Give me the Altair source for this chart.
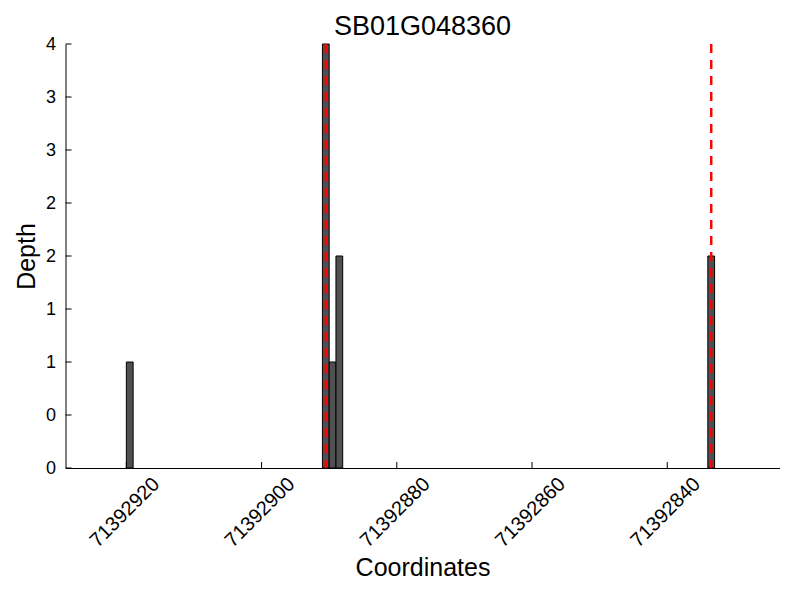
import altair as alt
import pandas as pd

# Data
positions = [71392919, 71392890, 71392889, 71392888, 71392833]
depths = [1, 4, 1, 2, 2]
marker_positions = [71392890.5, 71392833.5]
x_ticks = [71392920, 71392900, 71392880, 71392860, 71392840]
y_ticks = [0, 0.5, 1, 1.5, 2, 2.5, 3, 3.5, 4]
x_domain = [71392823.4, 71392929]
y_domain = [0, 4]
title_text = "SB01G048360"

FONT = "Liberation Sans"
W, H = 714, 424

bars_df = pd.DataFrame({"pos": positions, "depth": depths})
bars_df["end"] = bars_df["pos"] + 1
lines_df = pd.DataFrame({"pos": marker_positions})
xt_df = pd.DataFrame({"pos": x_ticks})
yt_df = pd.DataFrame({"depth": y_ticks})

xscale = alt.Scale(domain=x_domain, reverse=True, nice=False, zero=False)
yscale = alt.Scale(domain=y_domain, nice=False, zero=False)

xaxis = alt.Axis(values=x_ticks, format="d", labelAngle=-45,
                 labelAlign="center", labelBaseline="middle",
                 labelPadding=44, labelOffset=-2, tickSize=0,
                 grid=False, domainColor="black", domainWidth=1,
                 labelFont=FONT, labelFontSize=20, labelColor="black",
                 titleFont=FONT, titleFontSize=25, titleFontWeight="normal",
                 titleColor="black", titlePadding=5)
yaxis = alt.Axis(values=y_ticks, labelExpr="'' + floor(datum.value)",
                 tickSize=0, labelPadding=10, grid=False,
                 domainColor="black", domainWidth=1,
                 labelFont=FONT, labelFontSize=18, labelColor="black",
                 titleFont=FONT, titleFontSize=25, titleFontWeight="normal",
                 titleColor="black", titlePadding=6)

X = lambda f: alt.X(f, scale=xscale, title="Coordinates", axis=xaxis)
Y = lambda f: alt.Y(f, scale=yscale, title="Depth", axis=yaxis)

bars = alt.Chart(bars_df).mark_rect(
    fill="#505050", stroke="black", strokeWidth=1
).encode(
    x=X("pos:Q"),
    x2="end:Q",
    y=Y("depth:Q"),
    y2=alt.datum(0),
)

lines = alt.Chart(lines_df).mark_rule(
    color="#ff0000", strokeWidth=2.5, strokeDash=[9, 7]
).encode(x=X("pos:Q"))

xticks_layer = alt.Chart(xt_df).mark_rule(color="black", strokeWidth=1).encode(
    x=X("pos:Q"),
    y=alt.value(H), y2=alt.value(H - 6),
)
yticks_layer = alt.Chart(yt_df).mark_rule(color="black", strokeWidth=1).encode(
    y=Y("depth:Q"),
    x=alt.value(0), x2=alt.value(6),
)

chart = alt.layer(bars, xticks_layer, yticks_layer, lines).properties(
    width=W, height=H,
    title=alt.TitleParams(title_text, font=FONT, fontSize=27, fontWeight="normal",
                          color="black", anchor="middle", offset=2, dy=8),
    autosize=alt.AutoSizeParams(type="none"),
    padding={"left": 57.5, "top": 36, "right": 12, "bottom": 124},
).configure_view(stroke=None)

chart.save("out.html", embed_options={"renderer": "svg", "actions": False})
